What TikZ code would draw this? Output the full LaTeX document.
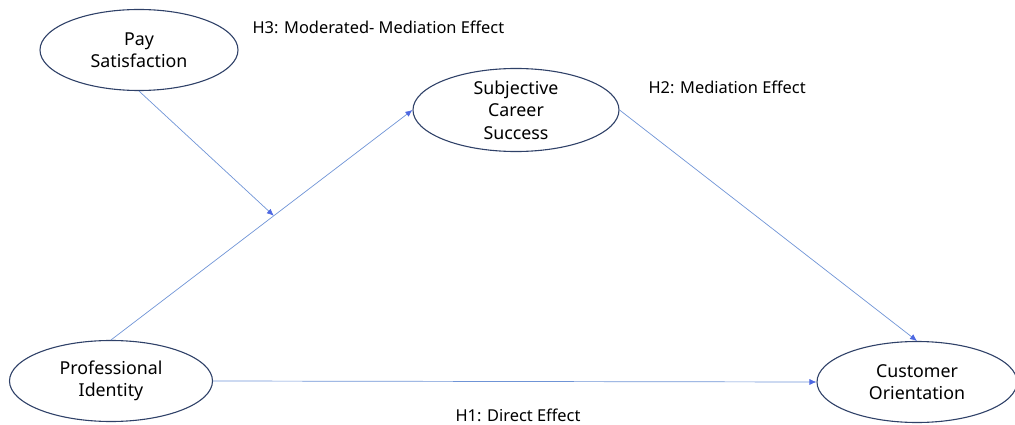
\documentclass[tikz,border=0pt]{standalone}
\usepackage{fontspec}
\setmainfont{Noto Sans}
\usetikzlibrary{shapes.geometric,arrows.meta}
\definecolor{rimblue}{HTML}{2F4168}
\definecolor{lineblue}{HTML}{6F94D6}
\tikzset{
  construct/.style={ellipse,draw=rimblue,line width=1.1pt,inner sep=0pt,
    minimum width=200pt,minimum height=81pt,align=center,
    font=\fontsize{17.8}{22.5}\selectfont},
  path/.style={draw=lineblue,line width=0.7pt,-{Latex[length=7pt,width=6pt,color=lineblue!70!blue]}},
  hyp/.style={anchor=west,font=\fontsize{16.4}{19}\selectfont}
}
\begin{document}
\begin{tikzpicture}[x=1pt,y=-1pt]
\useasboundingbox (0,0) rectangle (1015,425);
% constructs
\node[construct,minimum width=198pt] (pay) at (139,50) {Pay\\Satisfaction};
\node[construct,minimum width=206pt] (scs) at (516,110) {Subjective\\Career\\Success};
\node[construct,minimum width=203pt] (pid) at (111,381) {Professional\\Identity};
\node[construct] (cor) at (917,382) {Customer\\Orientation};
% paths
\draw[path] (pid.north) -- coordinate[pos=0.54] (mod) (scs.west);
\draw[path] (pay.south) -- (mod);
\draw[path] (scs.east) -- (cor.north);
\draw[path] (pid.east) -- (cor.west);
% hypotheses
\node[hyp] (h3) at (249,27) {H3: Moderated- Mediation Effect};
\node[hyp] (h2) at (645,87) {H2: Mediation Effect};
\node[hyp] (h1) at (452,415) {H1: Direct Effect};
\end{tikzpicture}
\end{document}
